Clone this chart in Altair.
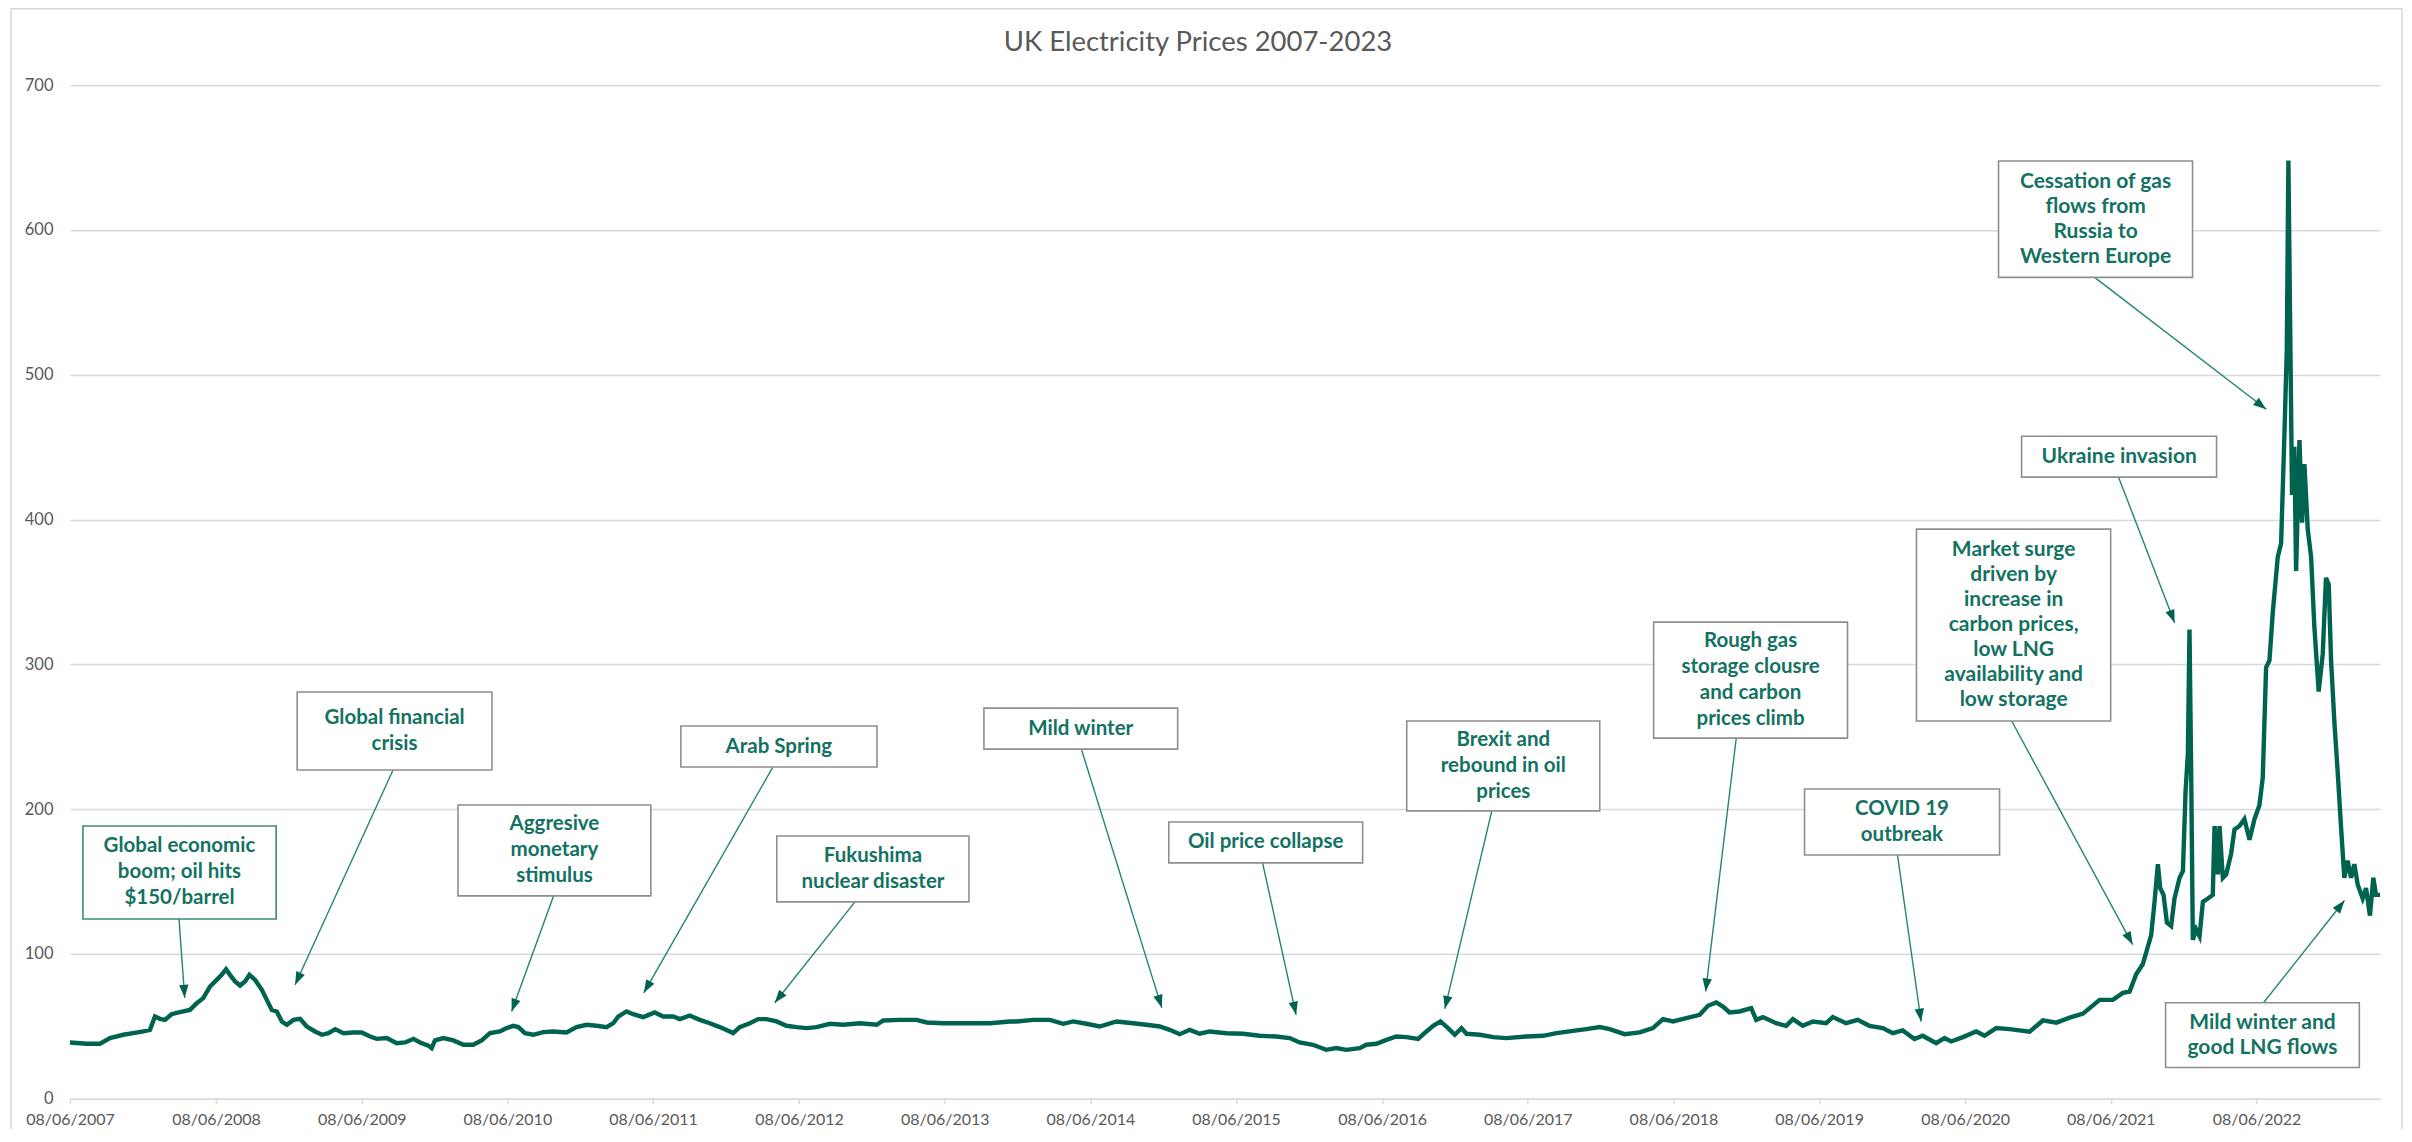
import math
import altair as alt
import pandas as pd

TITLE = "UK Electricity Prices 2007-2023"

# ---- series (decimal-year position, price) ----
year_pos = [
    2007.433, 2007.547, 2007.639, 2007.707, 2007.799, 2007.867, 2007.936, 2007.982,
    2008.016, 2008.050, 2008.085, 2008.130, 2008.187, 2008.256, 2008.302, 2008.347,
    2008.393, 2008.439, 2008.473, 2008.503, 2008.530, 2008.565, 2008.599, 2008.633,
    2008.663, 2008.702, 2008.748, 2008.782, 2008.816, 2008.850, 2008.885, 2008.919,
    2008.965, 2009.010, 2009.056, 2009.113, 2009.159, 2009.205, 2009.251, 2009.308,
    2009.376, 2009.433, 2009.491, 2009.536, 2009.605, 2009.673, 2009.731, 2009.788,
    2009.834, 2009.891, 2009.913, 2009.936, 2009.994, 2010.062, 2010.131, 2010.199,
    2010.256, 2010.314, 2010.382,
    2010.428, 2010.474, 2010.508, 2010.554, 2010.611, 2010.679, 2010.748, 2010.839,
    2010.908, 2010.977, 2011.045, 2011.114, 2011.160, 2011.194, 2011.251, 2011.297,
    2011.365, 2011.445, 2011.502, 2011.571, 2011.617, 2011.685, 2011.754, 2011.823,
    2011.891, 2011.960, 2011.983, 2012.028, 2012.097, 2012.154, 2012.211, 2012.280,
    2012.348, 2012.417, 2012.486, 2012.554, 2012.646, 2012.737, 2012.851, 2012.966,
    2013.011, 2013.126, 2013.240, 2013.309, 2013.423, 2013.583, 2013.743, 2013.880,
    2013.926, 2014.040, 2014.154, 2014.246, 2014.314, 2014.406, 2014.497, 2014.612,
    2014.726, 2014.817, 2014.909, 2014.977, 2015.046, 2015.115, 2015.183, 2015.252,
    2015.366, 2015.480, 2015.595, 2015.709, 2015.801, 2015.869, 2015.961, 2016.052,
    2016.121, 2016.189, 2016.281, 2016.326, 2016.395, 2016.464, 2016.532, 2016.601,
    2016.681, 2016.738, 2016.784, 2016.834, 2016.886, 2016.932, 2016.978, 2017.012,
    2017.104, 2017.195, 2017.286,
    2017.424, 2017.538, 2017.630, 2017.744, 2017.835, 2017.927, 2017.995, 2018.098,
    2018.201, 2018.292, 2018.361, 2018.430, 2018.521, 2018.613, 2018.670, 2018.727,
    2018.773, 2018.818, 2018.887, 2018.967, 2019.001, 2019.047, 2019.138, 2019.207,
    2019.253, 2019.321, 2019.390, 2019.481, 2019.527, 2019.618, 2019.698, 2019.778,
    2019.870, 2019.939, 2020.007, 2020.087, 2020.144, 2020.236, 2020.293, 2020.339,
    2020.419, 2020.510, 2020.567, 2020.647, 2020.739,
    2020.876, 2020.967, 2021.059, 2021.150, 2021.242, 2021.356, 2021.447, 2021.516,
    2021.562, 2021.607, 2021.653, 2021.687, 2021.710, 2021.733, 2021.756, 2021.772,
    2021.795, 2021.818, 2021.847, 2021.870, 2021.905, 2021.928, 2021.946, 2021.962,
    2021.973, 2021.985, 2021.996, 2022.019, 2022.042, 2022.065, 2022.099, 2022.133,
    2022.145, 2022.168, 2022.179, 2022.202, 2022.225, 2022.259, 2022.282, 2022.316,
    2022.350, 2022.385, 2022.419, 2022.453, 2022.476, 2022.499, 2022.522, 2022.545,
    2022.579, 2022.602, 2022.625, 2022.641, 2022.652, 2022.664, 2022.677, 2022.693,
    2022.705, 2022.728, 2022.746, 2022.762, 2022.785, 2022.808, 2022.830, 2022.860,
    2022.888, 2022.910, 2022.929, 2022.945, 2022.968, 2022.990, 2023.013, 2023.036,
    2023.059, 2023.082, 2023.105, 2023.128, 2023.162, 2023.185, 2023.212, 2023.235,
    2023.253, 2023.281,
]
price = [
    38.9, 38.0, 38.0, 41.9, 44.2, 45.3, 46.5, 47.6,
    56.8, 55.2, 54.5, 58.4, 59.8, 61.4, 66.0, 69.5,
    77.5, 82.1, 85.6, 89.5, 85.6, 81.0, 78.2, 81.0,
    85.6, 82.1, 75.2, 68.3, 61.4, 60.3, 53.4, 51.1,
    54.5, 55.2, 49.9, 46.5, 44.2, 45.3, 48.1, 45.3,
    45.8, 45.8, 43.0, 41.4, 41.9, 38.4, 38.9, 41.4,
    38.9, 36.6, 35.0, 40.3, 41.9, 40.3, 37.3, 37.3,
    40.3, 45.3, 46.5,
    48.8, 50.4, 49.5, 45.3, 44.2, 46.0, 46.5, 45.8,
    49.5, 51.1, 50.4, 49.5, 52.2, 56.8, 60.3, 58.4,
    56.4, 59.6, 56.8, 56.8, 55.0, 57.5, 54.5, 52.2,
    49.5, 46.5, 45.3, 49.5, 52.2, 55.0, 55.0, 53.4,
    50.4, 49.5, 48.8, 49.5, 51.8, 51.1, 52.2, 51.1,
    54.1, 54.5, 54.5, 52.7, 52.2, 52.2, 52.2, 53.4,
    53.4, 54.5, 54.5, 51.8, 53.4, 51.8, 49.9, 53.4,
    52.2, 51.1, 49.9, 47.6, 44.6, 47.6, 44.9, 46.5,
    45.3, 44.9, 43.5, 43.0, 41.9, 38.9, 37.3, 33.8,
    35.0, 33.8, 35.0, 37.3, 38.0, 40.7, 43.0, 42.6,
    41.4, 46.5, 50.4, 53.4, 48.8, 44.2, 48.8, 44.9,
    44.2, 42.6, 41.9,
    43.0, 43.5, 45.3, 46.9, 48.1, 49.5, 48.1, 44.6,
    45.8, 48.8, 55.0, 53.4, 55.7, 58.0, 64.2, 66.5,
    63.7, 59.6, 60.3, 62.6, 54.5, 56.4, 52.2, 50.4,
    55.0, 50.4, 53.4, 52.2, 56.4, 52.2, 54.5, 50.4,
    48.8, 45.3, 47.2, 41.2, 43.5, 38.4, 41.9, 39.6,
    42.6, 46.5, 43.5, 48.8, 48.1,
    46.4, 54.1, 52.6, 56.0, 58.8, 68.3, 68.3, 73.1,
    74.0, 86.0, 93.1, 105.0, 113.0, 136.0, 162.0, 145.5,
    140.8, 121.7, 119.3, 138.3, 152.6, 157.4, 212.2, 238.4,
    324.0, 221.7, 109.8, 117.0, 112.2, 136.0, 138.3, 140.8,
    188.4, 155.0, 188.4, 152.6, 155.0, 169.3, 186.0, 188.4,
    193.1, 178.9, 193.1, 202.7, 221.7, 297.9, 302.7, 336.0,
    374.1, 383.6, 459.8, 517.0, 648.0, 536.0, 417.0, 450.3,
    364.6, 455.0, 397.9, 438.4, 393.1, 374.1, 326.5, 281.2,
    307.4, 359.8, 355.0, 302.7, 259.8, 226.5, 188.4, 152.6,
    164.5, 152.6, 162.0, 147.8, 138.3, 145.5, 126.5, 152.6,
    140.8, 140.8,
]

y_ticks = [0, 100, 200, 300, 400, 500, 600, 700]
x_tick_years = list(range(2007, 2023))  # labels 08/06/YYYY

# ---- annotations (text, box corners and arrow ends in data space) ----
ann_text = [
    "Global economic\nboom; oil hits\n$150/barrel",
    "Global financial\ncrisis",
    "Aggresive\nmonetary\nstimulus",
    "Arab Spring",
    "Fukushima\nnuclear disaster",
    "Mild winter",
    "Oil price collapse",
    "Brexit and\nrebound  in oil\nprices",
    "Rough gas\nstorage clousre\nand carbon\nprices climb",
    "COVID 19\noutbreak",
    "Market surge\ndriven by\nincrease in\ncarbon  prices,\nlow LNG\navailability and\nlow storage",
    "Ukraine invasion",
    "Cessation of gas\nflows from\nRussia to\nWestern Europe",
    "Mild winter and\ngood LNG flows",
]
box_left = [2007.522, 2008.990, 2010.094, 2011.624, 2012.282, 2013.702, 2014.971,
            2016.603, 2018.297, 2019.333, 2020.101, 2020.821, 2020.663, 2021.809]
box_right = [2008.846, 2010.327, 2011.418, 2012.968, 2013.599, 2015.032, 2016.301,
             2017.927, 2019.628, 2020.670, 2021.432, 2022.159, 2021.994, 2023.139]
box_top = [188.4, 280.9, 202.9, 257.4, 181.5, 269.8, 191.2,
           260.9, 329.2, 213.9, 393.4, 457.6, 647.7, 66.3]
box_bottom = [124.2, 227.1, 140.1, 229.1, 136.0, 241.5, 162.9,
              198.8, 249.1, 168.4, 260.9, 429.3, 567.3, 21.6]
arrow_from_x = [2008.181, 2009.648, 2010.750, 2012.255, 2012.817, 2014.371, 2015.615,
                2017.186, 2018.864, 2019.971, 2020.753, 2021.486, 2021.322, 2022.481]
arrow_from_y = [124.2, 227.1, 140.1, 229.1, 136.0, 241.5, 162.9,
                198.8, 249.1, 168.4, 260.9, 429.3, 567.3, 66.3]
arrow_tip_x = [2008.220, 2008.976, 2010.462, 2011.370, 2012.268, 2014.923, 2015.845,
               2016.864, 2018.654, 2020.133, 2021.583, 2021.871, 2022.500, 2023.037]
arrow_tip_y = [69.7, 78.7, 60.2, 73.2, 66.3, 62.8, 58.0,
               62.1, 74.1, 53.3, 106.5, 328.8, 476.2, 136.9]
lato_boxes = [10, 11, 12, 13]  # boxes typeset in the wider face


def to_ts(d):
    y = int(d)
    n = 366 if y % 4 == 0 else 365
    return pd.Timestamp(year=y, month=1, day=1) + pd.Timedelta(days=(d - y) * n)


def iso(ts):
    return ts.strftime("%Y-%m-%dT%H:%M:%S")


# ---- layout ----
W, H = 2311, 1014
PAD = {"left": 62, "top": 77, "right": 24, "bottom": 30}
LH_NARROW = 26
LH_WIDE = 25

dom_start = pd.Timestamp("2007-06-08")
dom_end = to_ts(year_pos[-1])
px_per_day = W / ((dom_end - dom_start).total_seconds() / 86400.0)
px_per_unit = H / 700.0

LINE = "#00634f"
TXT = "#137262"
ARROW = "#268474"
GRID = "#d9d9d9"
LABEL = "#595959"

xscale = alt.Scale(domain=[iso(dom_start), iso(dom_end)], nice=False)
yscale = alt.Scale(domain=[0, 700], nice=False)
xaxis = alt.Axis(
    title=None,
    values=[alt.DateTime(year=y, month=6, date=8) for y in x_tick_years],
    format="%d/%m/%Y", labelFont="Lato", labelFontSize=16, labelColor=LABEL,
    labelPadding=8, labelFlush=False, labelOverlap=False, tickSize=5,
    tickColor=GRID, tickWidth=1.5, domainColor=GRID, domainWidth=1.5, grid=False,
)
yaxis = alt.Axis(
    title=None, values=y_ticks, labelFont="Lato", labelFontSize=16.5,
    labelColor=LABEL, labelPadding=17, ticks=False, domain=False, grid=True,
    gridColor=GRID, gridWidth=1.5,
)


def X(field):
    return alt.X(field, type="temporal", scale=xscale, axis=xaxis)


def Y(field):
    return alt.Y(field, type="quantitative", scale=yscale, axis=yaxis)


series = pd.DataFrame({"date": [iso(to_ts(d)) for d in year_pos], "price": price})

rows = []
for i, t in enumerate(ann_text):
    fx, fy = to_ts(arrow_from_x[i]), arrow_from_y[i]
    tx, ty = to_ts(arrow_tip_x[i]), arrow_tip_y[i]
    dxp = (tx - fx).total_seconds() / 86400.0 * px_per_day
    dyp = -(ty - fy) * px_per_unit
    ang = math.degrees(math.atan2(dxp, -dyp)) % 360
    cx = to_ts((box_left[i] + box_right[i]) / 2)
    n_lines = t.count("\n") + 1
    wide = i in lato_boxes
    lh = LH_WIDE if wide else LH_NARROW
    # first line anchor so that the whole block is centred in its box
    cy = (box_top[i] + box_bottom[i]) / 2 + (n_lines - 1) / 2 * lh / px_per_unit
    rows.append({
        "text": t,
        "bl": iso(to_ts(box_left[i])), "br": iso(to_ts(box_right[i])),
        "bt": box_top[i], "bb": box_bottom[i],
        "cx": iso(cx), "cy": cy,
        "fx": iso(fx), "fy": fy, "tx": iso(tx), "ty": ty,
        "angle": ang,
        "edge": "#3d8a7a" if i == 0 else "#8f8f8f",
        "face": "wide" if wide else "narrow",
    })
ann = pd.DataFrame(rows)

one = alt.Data(values=[{}])

border = alt.Chart(one).mark_rect(
    fill=None, stroke=GRID, strokeWidth=1.5
).encode(
    x=alt.value(-59), x2=alt.value(W + 22),
    y=alt.value(-76.5), y2=alt.value(H + 80),
)

title = alt.Chart(one).mark_text(
    text=TITLE, font="Lato", fontSize=27.5, color=LABEL, align="center",
    baseline="middle",
).encode(x=alt.value(W / 2 - 27), y=alt.value(-42))

line = alt.Chart(series).mark_line(color=LINE, strokeWidth=4.4).encode(
    x=X("date"), y=Y("price")
)

arrows = alt.Chart(ann).mark_rule(color=ARROW, strokeWidth=1.4).encode(
    x=X("fx"), y=Y("fy"), x2="tx:T", y2="ty:Q"
)

heads = alt.Chart(ann).mark_point(
    shape="M0,0 L0.36,1 L-0.36,1 Z", filled=True, size=676, opacity=1, color=LINE
).encode(
    x=X("tx"), y=Y("ty"), angle=alt.Angle("angle:Q", scale=None)
)

boxes = alt.Chart(ann).mark_rect(fill="white", strokeWidth=1.6).encode(
    x=X("bl"), x2="br:T", y=Y("bt"), y2="bb:Q",
    stroke=alt.Stroke("edge:N", scale=None),
)

text_narrow = alt.Chart(ann).transform_filter(alt.datum.face == "narrow").mark_text(
    font="Lato", fontSize=20.5, fontWeight="bold", color=TXT, lineBreak="\n",
    lineHeight=LH_NARROW, align="center", baseline="middle",
).encode(x=X("cx"), y=Y("cy"), text="text:N")

text_wide = alt.Chart(ann).transform_filter(alt.datum.face == "wide").mark_text(
    font="Lato", fontSize=21, fontWeight="bold", color=TXT, lineBreak="\n",
    lineHeight=LH_WIDE, align="center", baseline="middle",
).encode(x=X("cx"), y=Y("cy"), text="text:N")

chart = alt.layer(
    border, title, line, arrows, heads, boxes, text_narrow, text_wide
).properties(
    width=W, height=H, padding=PAD,
    autosize=alt.AutoSizeParams(type="none"),
).configure_view(stroke=None)

chart.save("out.html", embed_options={"renderer": "svg", "actions": False})
